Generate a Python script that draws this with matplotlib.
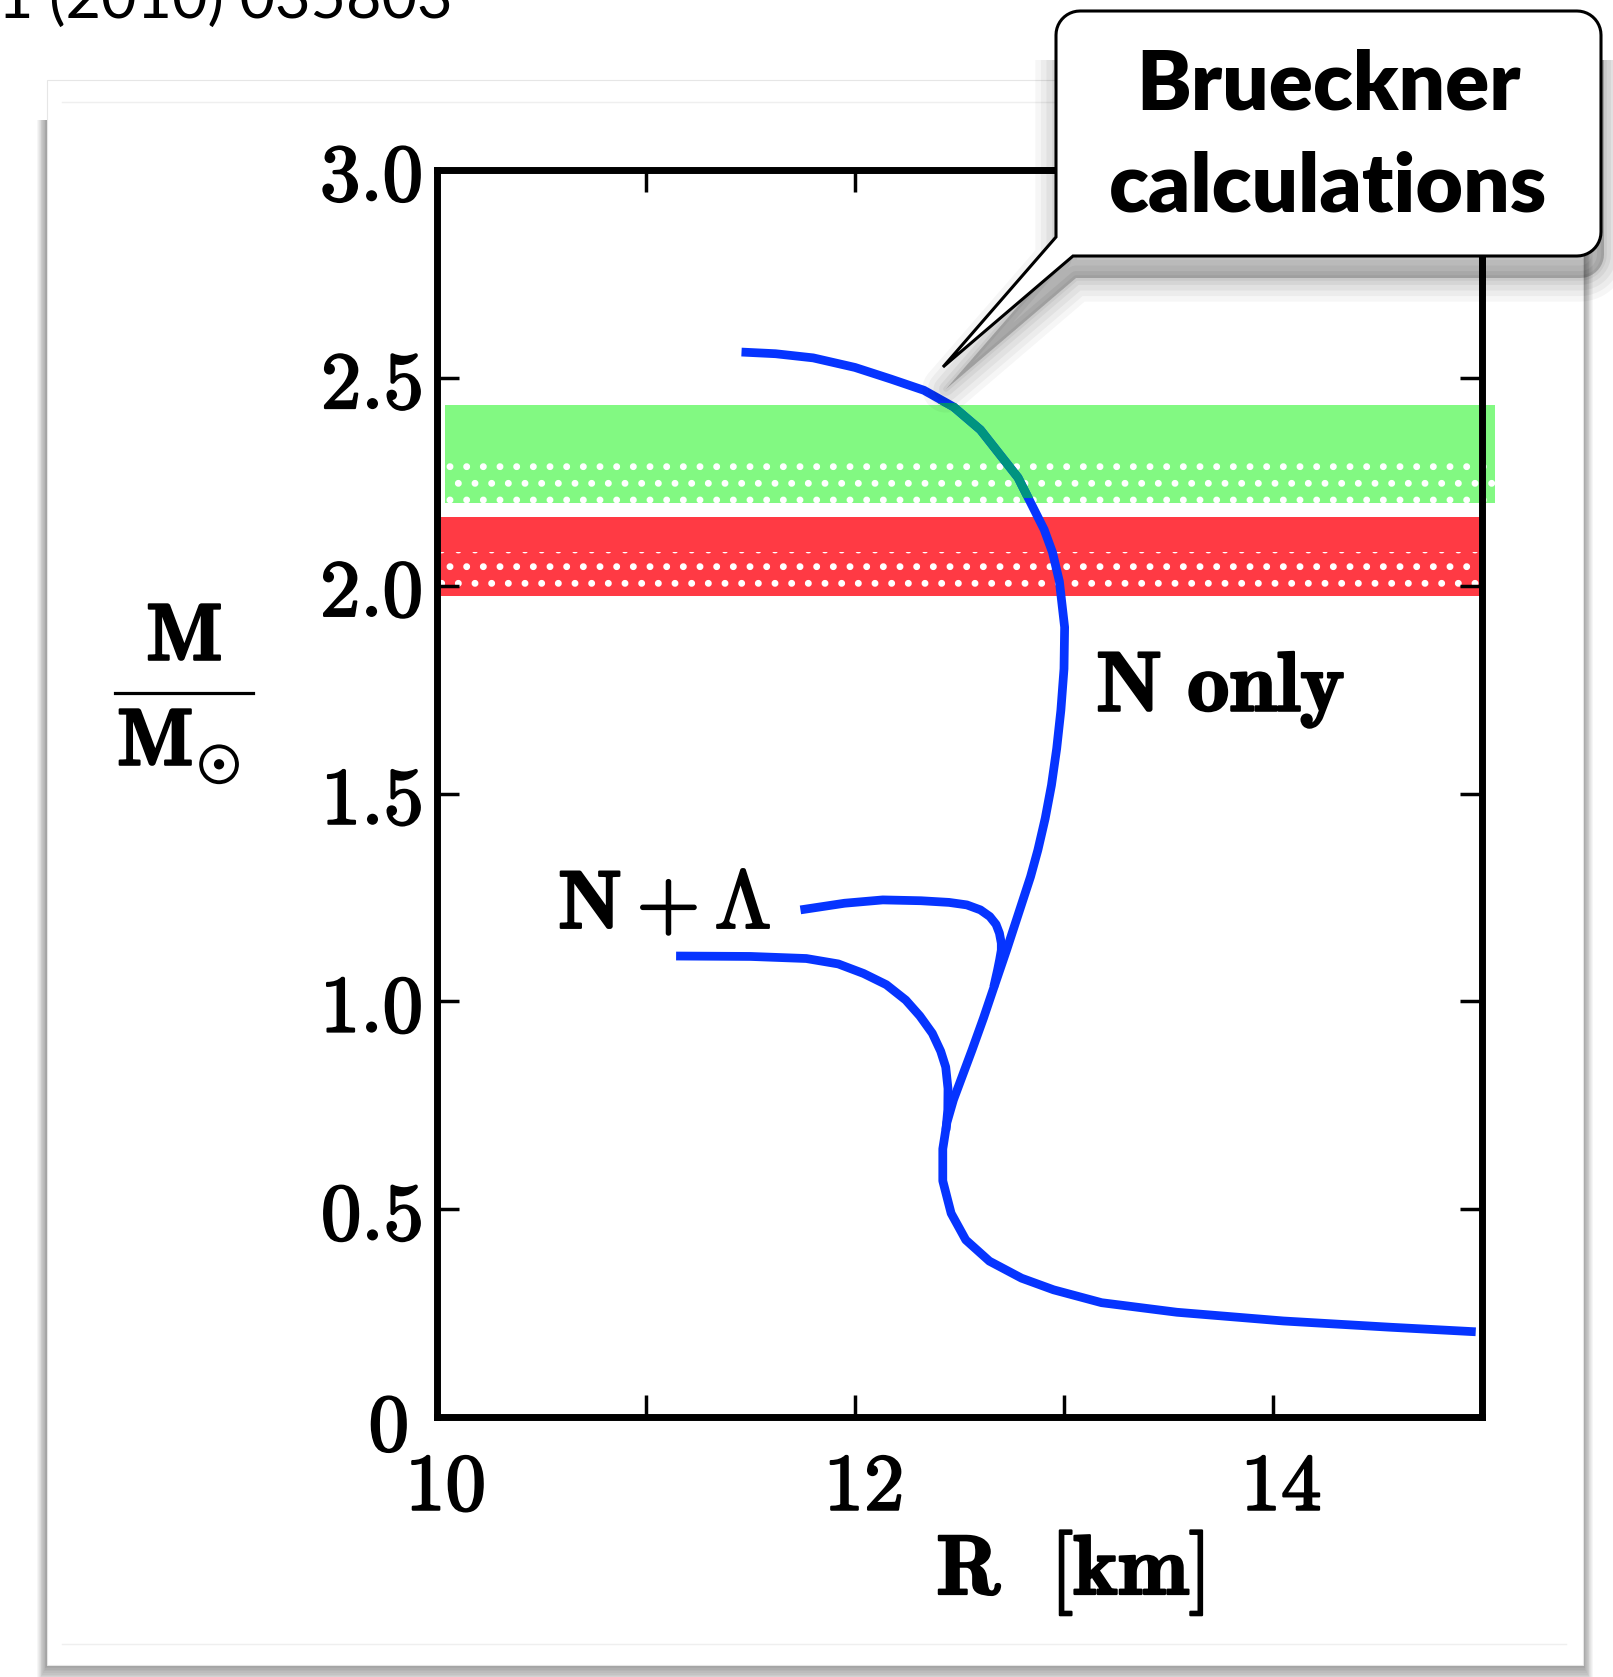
import matplotlib
matplotlib.use("Agg")
import matplotlib.pyplot as plt
import matplotlib.patheffects as pe
from matplotlib.patches import Polygon, Rectangle
from matplotlib.lines import Line2D
from matplotlib.transforms import ScaledTranslation
import numpy as np

# ---- data ----
# N only mass-radius curve (R in km, M in solar masses), from the low-mass end up
n_only_r = [14.97, 14.56, 14.05, 13.54, 13.18, 12.95, 12.797, 12.643, 12.53, 12.46,
            12.42, 12.42, 12.44, 12.471, 12.56, 12.615, 12.66, 12.725, 12.79, 12.84,
            12.875, 12.91, 12.94, 12.965, 12.985, 13.0, 13.003, 12.978, 12.945, 12.905,
            12.78, 12.60, 12.472, 12.33, 12.172, 12.0, 11.80, 11.62, 11.457]
n_only_m = [0.205, 0.216, 0.231, 0.252, 0.275, 0.306, 0.334, 0.375, 0.426, 0.49,
            0.568, 0.645, 0.709, 0.763, 0.883, 0.96, 1.027, 1.123, 1.223, 1.30,
            1.364, 1.44, 1.52, 1.608, 1.70, 1.80, 1.90, 2.01, 2.08, 2.135,
            2.26, 2.375, 2.43, 2.47, 2.497, 2.525, 2.548, 2.558, 2.562]

# N + Lambda branches
nl_upper_r = [11.739, 11.95, 12.133, 12.316, 12.45, 12.535, 12.60, 12.645, 12.675,
              12.691, 12.70, 12.70, 12.692, 12.682, 12.664]
nl_upper_m = [1.220, 1.236, 1.244, 1.242, 1.238, 1.232, 1.22, 1.204, 1.185,
              1.164, 1.14, 1.123, 1.10, 1.075, 1.035]
nl_lower_r = [11.144, 11.5, 11.767, 11.92, 12.041, 12.15, 12.243, 12.31, 12.370,
              12.41, 12.434, 12.445, 12.444, 12.435]
nl_lower_m = [1.109, 1.108, 1.103, 1.09, 1.067, 1.04, 1.003, 0.965, 0.923,
              0.88, 0.842, 0.79, 0.739, 0.69]

# observational mass bands: bottom, top of speckled part, top
green_band = [2.20, 2.30, 2.435]
green_r = [10.04, 15.06]
red_band = [1.975, 2.08, 2.165]
red_r = [10.02, 15.0]

xticks = [10, 11, 12, 13, 14, 15]
xticklabels = ["10", "", "12", "", "14", ""]
yticks = [0, 0.5, 1.0, 1.5, 2.0, 2.5, 3.0]
yticklabels = ["0", "0.5", "1.0", "1.5", "2.0", "2.5", "3.0"]

W, H = 1613, 1677
BLUE = "#0634ff"
TEAL = "#009480"
GREEN = "#82f982"
RED = "#ff3a44"
FS = 58
BOLDEN = [pe.withStroke(linewidth=1.6, foreground="black")]

plt.rcParams["mathtext.fontset"] = "cm"
plt.rcParams["hatch.linewidth"] = 2.5

fig = plt.figure(figsize=(W / 100, H / 100), dpi=100)


def fx(x):
    return x / W


def fy(y):
    return 1 - y / H


def to_fig(pts):
    return [(fx(x), fy(y)) for x, y in pts]


# ---- slide panel with drop shadow ----
for k in range(12, 0, -1):
    fig.add_artist(Rectangle((fx(47 - 0.8 * k), fy(1665 + 1.6 * k)),
                             (1536 + 1.6 * k) / W, (1545 + 1.6 * k) / H,
                             transform=fig.transFigure, fc="black", alpha=0.035,
                             lw=0, zorder=-3))
fig.add_artist(Rectangle((fx(47), fy(1665)), 1536 / W, 1585 / H,
                         transform=fig.transFigure, fc="white", ec="#e6e6e6",
                         lw=0.8, zorder=-2))
for yy in (102, 1644):
    fig.add_artist(Line2D([fx(62), fx(1566)], [fy(yy), fy(yy)],
                          transform=fig.transFigure, color="#efefef", lw=1, zorder=-1))

fig.text(fx(453), fy(18), "1 (2010) 035803", family="Lato", fontsize=44,
         ha="right", va="baseline", color="black")

# ---- axes ----
ax = fig.add_axes([fx(437), fy(1417), 1045 / W, 1247 / H])
ax.set_xlim(10, 15)
ax.set_ylim(0, 3)

for lo_r, band, col in ((red_r, red_band, RED), (green_r, green_band, GREEN)):
    ax.add_patch(Rectangle((lo_r[0], band[0]), lo_r[1] - lo_r[0], band[2] - band[0],
                           fc=col, lw=0, zorder=1, clip_on=False))
    # white speckles in the lower part of the band
    ax.add_patch(Rectangle((lo_r[0], band[0]), lo_r[1] - lo_r[0], band[1] - band[0],
                           fc="none", ec="white", hatch=".", lw=0, zorder=1.5,
                           clip_on=False))

kw = dict(color=BLUE, lw=6.3, solid_capstyle="butt", solid_joinstyle="round", zorder=3)
ax.plot(n_only_r, n_only_m, **kw)
ax.plot(nl_upper_r, nl_upper_m, **kw)
ax.plot(nl_lower_r, nl_lower_m, **kw)
teal_line, = ax.plot(n_only_r, n_only_m, **dict(kw, color=TEAL, zorder=3.5))
teal_line.set_clip_path(Rectangle((10, 2.21), 5, 0.23, transform=ax.transData))

ax.text(13.153, 1.698, r"$\mathbf{N\ only}$", fontsize=FS + 3, ha="left",
        va="baseline", path_effects=BOLDEN)
ax.text(10.579, 1.176, r"$\mathbf{N} + \mathbf{\Lambda}$", fontsize=FS + 1,
        ha="left", va="baseline", path_effects=BOLDEN)

ax.set_xticks(xticks)
ax.set_xticklabels([r"$\mathbf{%s}$" % t if t else "" for t in xticklabels])
ax.set_yticks(yticks)
ax.set_yticklabels([r"$\mathbf{%s}$" % t for t in yticklabels])
ax.tick_params(direction="in", length=15.8, width=2.5, top=True, right=True,
               labelsize=FS)
ax.tick_params(axis="x", pad=23)
ax.tick_params(axis="y", pad=11)
for lab in ax.get_xticklabels():
    lab.set_transform(lab.get_transform() + ScaledTranslation(0.08, 0, fig.dpi_scale_trans))
    lab.set_path_effects(BOLDEN)
for lab in ax.get_yticklabels():
    lab.set_path_effects(BOLDEN)
zero = ax.get_yticklabels()[0]
zero.set_transform(zero.get_transform() + ScaledTranslation(-0.14, -0.03, fig.dpi_scale_trans))
for s in ax.spines.values():
    s.set_linewidth(5)

# y label: M over M_sun
fig.text(fx(184), fy(660), r"$\mathbf{M}$", fontsize=FS, ha="center", va="baseline",
         path_effects=BOLDEN)
fig.add_artist(Line2D([fx(115), fx(253)], [fy(693), fy(693)],
                      transform=fig.transFigure, color="black", lw=2.3))
fig.text(fx(117), fy(765), r"$\mathbf{M}_{\odot}$", fontsize=FS, ha="left",
         va="baseline", path_effects=BOLDEN)

fig.text(fx(1070), fy(1594), r"$\mathbf{R\ \ [km]}$", fontsize=FS + 3,
         ha="center", va="baseline", path_effects=BOLDEN)

# ---- callout box ----
L, T, R, B, r = 1056, 11, 1601, 256, 24
tip = (943, 367)
outline = [(L, 237)]
for cx, cy, a0, a1 in ((L + r, T + r, 180, 90), (R - r, T + r, 90, 0), (R - r, B - r, 0, -90)):
    for a in np.linspace(np.radians(a0), np.radians(a1), 12):
        outline.append((cx + r * np.cos(a), cy - r * np.sin(a)))
outline += [(1073, B), tip]

shadow = [(x + 3, y + 22) for x, y in outline]
shadow_clip = Rectangle((0, 0), 1, fy(60), transform=fig.transFigure)
for lw, al in ((34, 0.035), (26, 0.04), (18, 0.045), (10, 0.05), (4, 0.05)):
    sp = fig.add_artist(Polygon(to_fig(shadow), closed=True, transform=fig.transFigure,
                                fc="black", ec="black", alpha=al, lw=lw,
                                joinstyle="round", zorder=4))
    sp.set_clip_path(shadow_clip)
fig.add_artist(Polygon(to_fig(outline), closed=True, transform=fig.transFigure,
                       fc="white", ec="black", lw=2.2, joinstyle="miter", zorder=5))

fig.text(fx(1328), fy(110), "Brueckner", family="Lato", fontweight="heavy",
         fontsize=59, ha="center", va="baseline", zorder=6)
fig.text(fx(1328), fy(212), "calculations", family="Lato", fontweight="heavy",
         fontsize=59, ha="center", va="baseline", zorder=6)

fig.savefig("out.png", dpi=100)
